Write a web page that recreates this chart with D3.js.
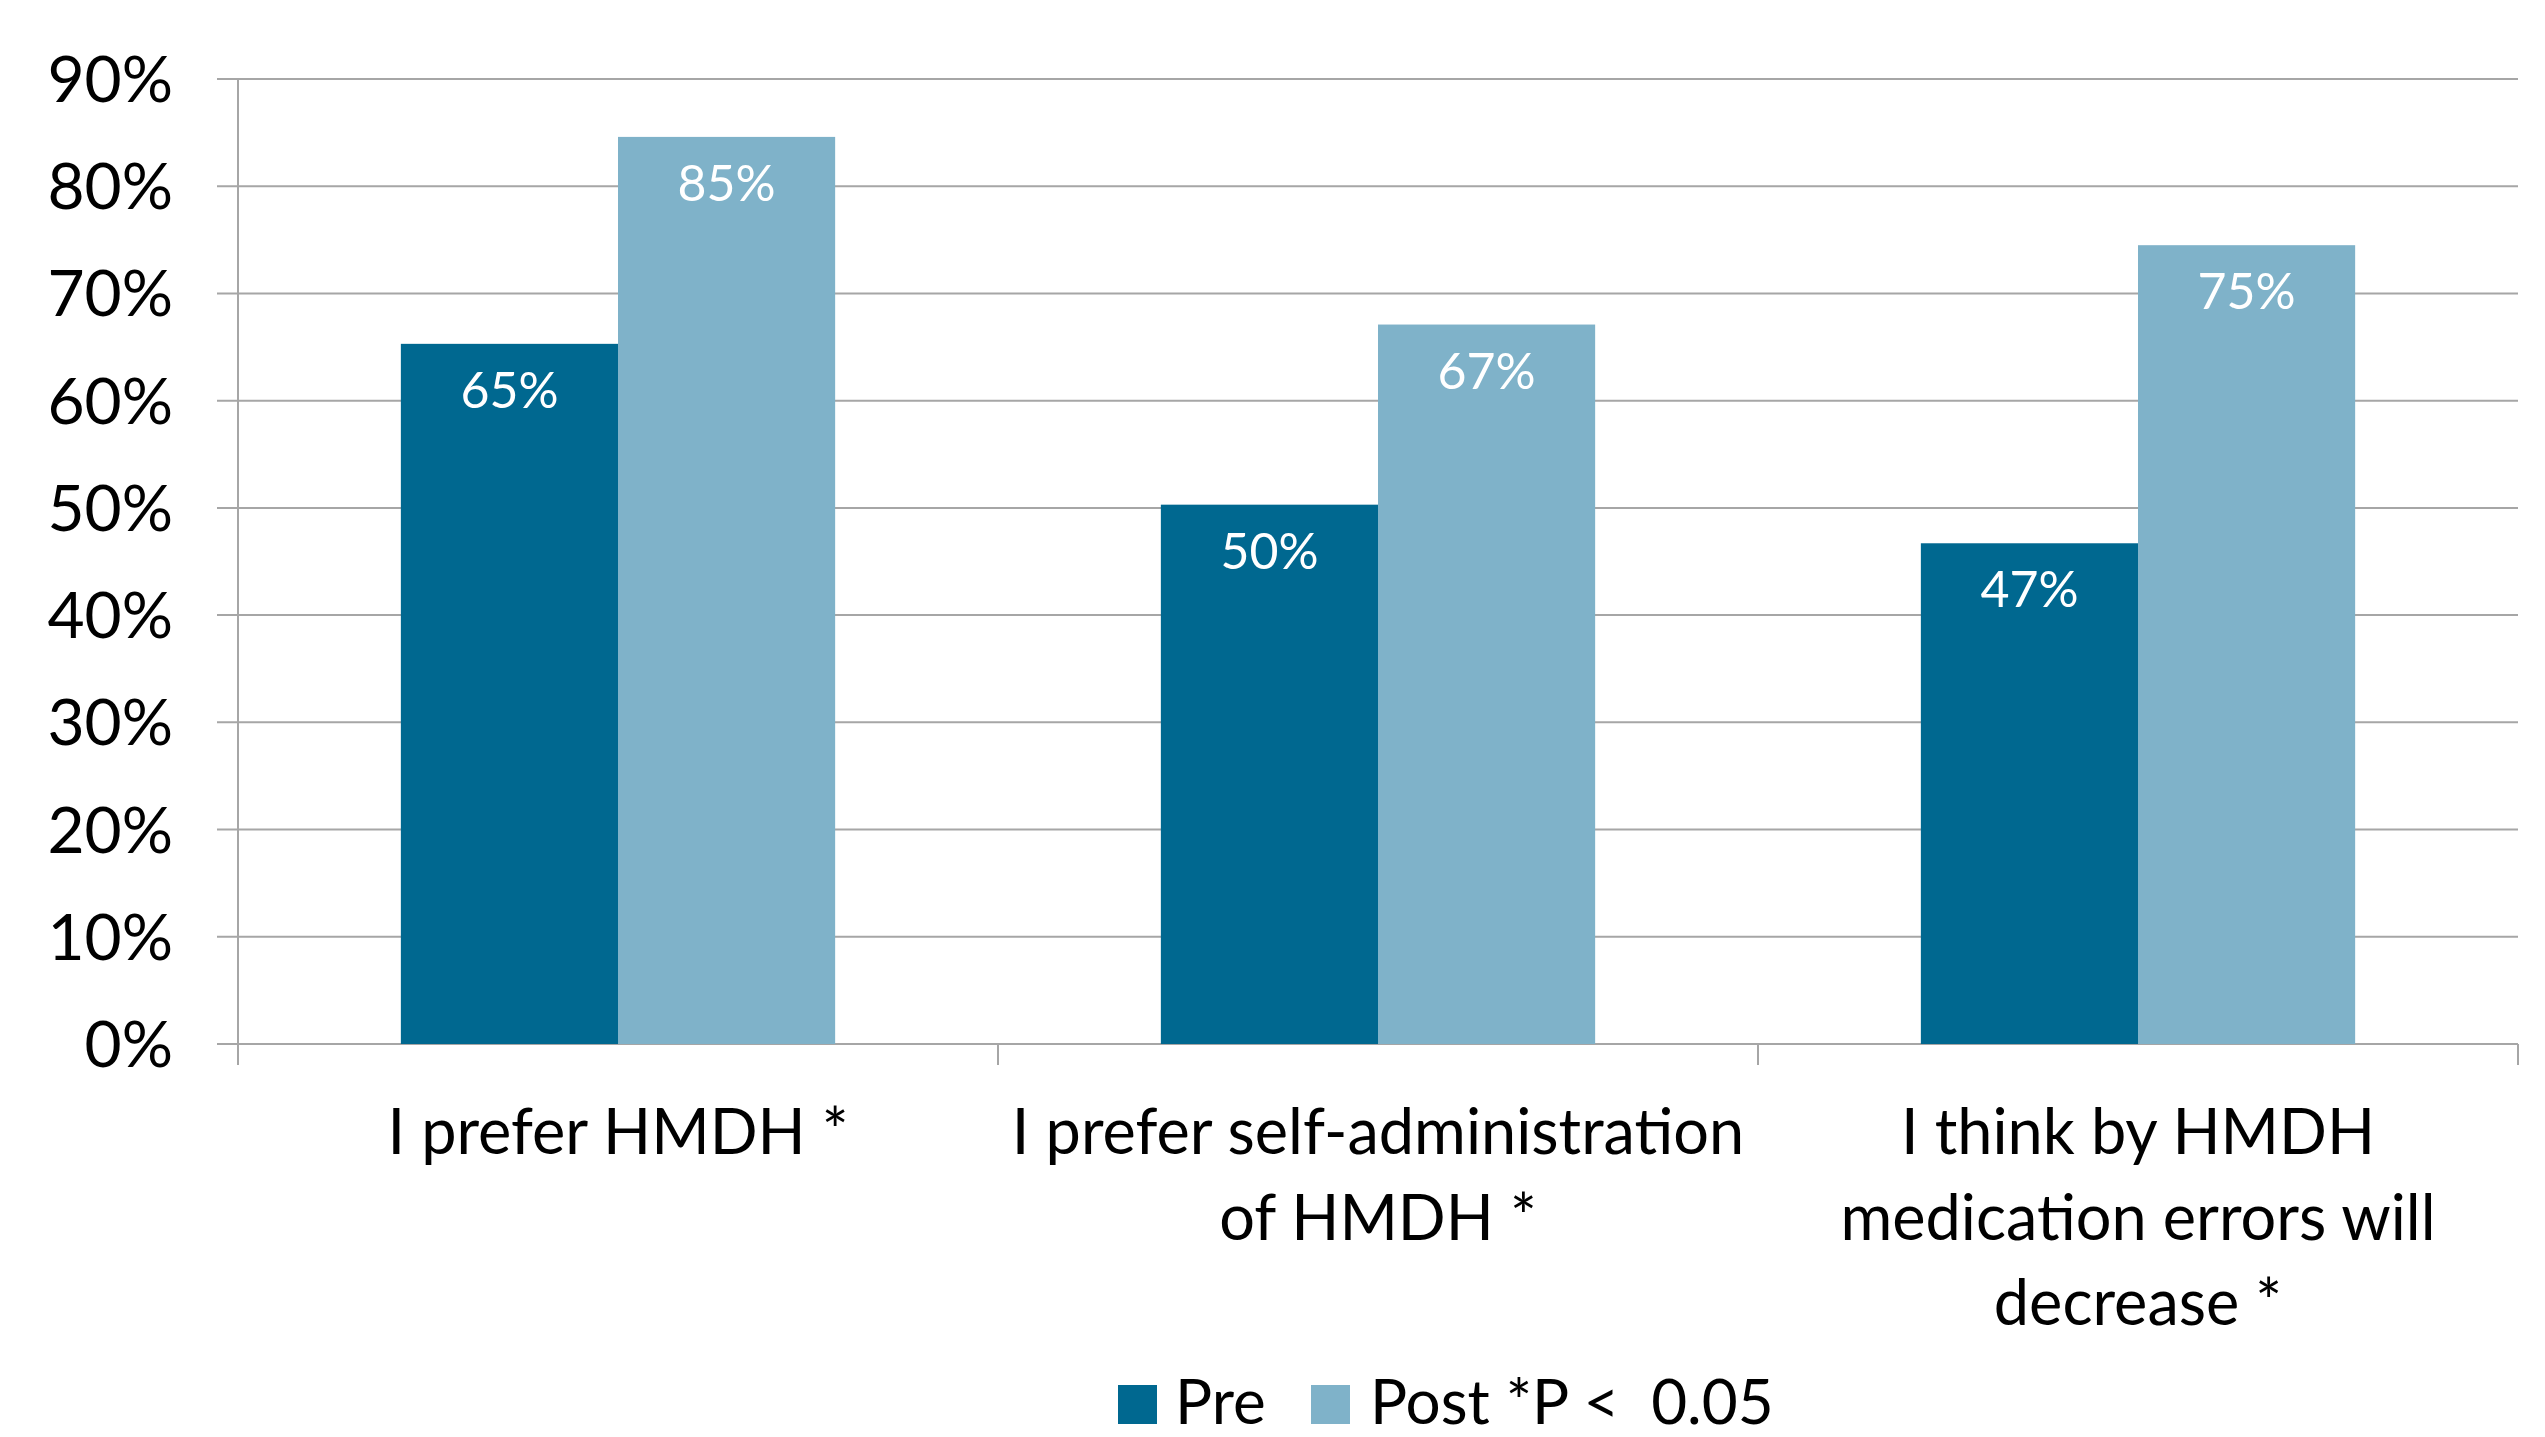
<!DOCTYPE html>
<html><head><meta charset="utf-8">
<script src="https://cdn.jsdelivr.net/npm/d3@7"></script>
<style>
html,body{margin:0;padding:0;background:#fff;}
svg{display:block;font-family:Lato,"Open Sans",sans-serif;}
</style></head>
<body><svg id="c" width="2545" height="1437"></svg>
<script>
const categories = ["I prefer HMDH *", "I prefer self-administration\nof HMDH *", "I think by HMDH\nmedication errors will\ndecrease *"];
const seriesNames = ["Pre", "Post"];
const preValues = [65.3, 50.3, 46.7];
const postValues = [84.6, 67.1, 74.5];
const valueLabels = [["65%", "50%", "47%"], ["85%", "67%", "75%"]];
const yTicks = [0, 10, 20, 30, 40, 50, 60, 70, 80, 90];
const legendNote = "*P <  0.05";
const colors = ["#006890", "#7FB2C9"];

(function () {
const svg = d3.select("#c");
const pLeft = 238, pRight = 2518, pTop = 79, pBottom = 1044;
const x = d3.scaleBand().domain(categories).range([pLeft, pRight]).paddingInner(0).paddingOuter(0);
const inner = d3.scaleBand().domain(seriesNames).range([0, x.bandwidth()]).paddingInner(0).paddingOuter(0.75);
const y = d3.scaleLinear().domain([0, 90]).range([pBottom, pTop]);
const series = [preValues, postValues];

svg.append("g").selectAll("line").data(yTicks).join("line")
  .attr("x1", pLeft - 21).attr("x2", pRight)
  .attr("y1", d => y(d)).attr("y2", d => y(d))
  .attr("stroke", "#a6a6a6").attr("stroke-width", 2);
svg.append("line").attr("x1", pLeft).attr("x2", pLeft).attr("y1", pTop).attr("y2", pBottom + 21)
  .attr("stroke", "#a6a6a6").attr("stroke-width", 2);
const bounds = categories.map(c => x(c)).concat([pRight]);
svg.append("g").selectAll("line").data(bounds).join("line")
  .attr("x1", d => d).attr("x2", d => d).attr("y1", pBottom).attr("y2", pBottom + 21)
  .attr("stroke", "#a6a6a6").attr("stroke-width", 2);

svg.append("g").selectAll("text").data(yTicks).join("text")
  .attr("x", 173).attr("y", d => y(d)).attr("dy", "0.36em")
  .attr("text-anchor", "end").attr("font-size", 64).attr("fill", "#000")
  .text(d => d + "%");

series.forEach((vals, si) => {
  const g = svg.append("g");
  g.selectAll("rect").data(vals).join("rect")
    .attr("x", (d, i) => x(categories[i]) + inner(seriesNames[si]))
    .attr("width", inner.bandwidth())
    .attr("y", d => y(d)).attr("height", d => y(0) - y(d))
    .attr("fill", colors[si]);
  g.selectAll("text").data(vals).join("text")
    .attr("x", (d, i) => x(categories[i]) + inner(seriesNames[si]) + inner.bandwidth() / 2)
    .attr("y", d => y(d) + 64)
    .attr("text-anchor", "middle").attr("font-size", 50).attr("fill", "#fff")
    .text((d, i) => valueLabels[si][i]);
});

categories.forEach(c => {
  const lines = c.split("\n");
  const t = svg.append("text").attr("text-anchor", "middle").attr("font-size", 63).attr("fill", "#000");
  lines.forEach((ln, k) => {
    t.append("tspan").attr("x", x(c) + x.bandwidth() / 2).attr("y", 1154 + k * 85.5).text(ln);
  });
});

const leg = svg.append("g");
leg.append("rect").attr("x", 1118).attr("y", 1385).attr("width", 39).attr("height", 39).attr("fill", colors[0]);
leg.append("text").attr("x", 1175).attr("y", 1424).attr("font-size", 62).text(seriesNames[0]);
leg.append("rect").attr("x", 1311).attr("y", 1385).attr("width", 39).attr("height", 39).attr("fill", colors[1]);
leg.append("text").attr("x", 1370).attr("y", 1424).attr("font-size", 62).style("white-space", "pre")
  .text(seriesNames[1] + " " + legendNote);
})();
</script></body></html>
